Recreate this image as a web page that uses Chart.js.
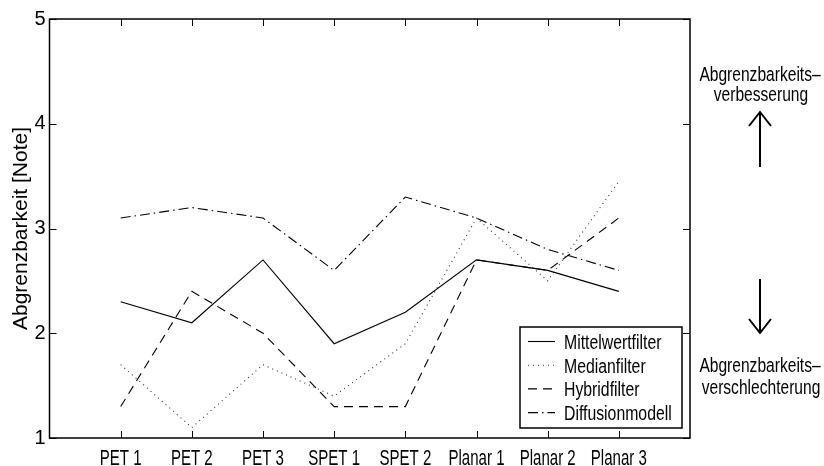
<!DOCTYPE html>
<html>
<head>
<meta charset="utf-8">
<script src="https://cdn.jsdelivr.net/npm/chart.js@4.4.1/dist/chart.umd.min.js"></script>
<style>
  body { margin: 0; background: #fff; }
  #wrap { position: relative; width: 824px; height: 466px; }
</style>
</head>
<body>
<div id="wrap"><canvas id="myChart"></canvas></div>
<script>
const categories = ['PET 1', 'PET 2', 'PET 3', 'SPET 1', 'SPET 2', 'Planar 1', 'Planar 2', 'Planar 3']
const seriesNames = ['Mittelwertfilter', 'Medianfilter', 'Hybridfilter', 'Diffusionmodell']
const mittelwert = [2.3, 2.1, 2.7, 1.9, 2.2, 2.7, 2.6, 2.4]
const median = [1.7, 1.1, 1.7, 1.4, 1.9, 3.1, 2.5, 3.45]
const hybrid = [1.3, 2.4, 2.0, 1.3, 1.3, 2.7, 2.6, 3.1]
const diffusion = [3.1, 3.2, 3.1, 2.6, 3.3, 3.1, 2.8, 2.6]
const yTicks = [1, 2, 3, 4, 5]

const FONT = "'Liberation Sans', Arial, sans-serif"

// x positions 1..8 on a 0..9 linear axis
const toPoints = (vals) => vals.map((v, i) => ({ x: i + 1, y: v }))

// the reference uses a condensed face, so squeeze the text horizontally
const squeezed = (ctx, text, x, y, align, sx) => {
  ctx.save()
  ctx.translate(x, y)
  ctx.scale(sx, 1)
  ctx.textAlign = align
  ctx.fillText(text, 0, 0)
  ctx.restore()
}

const boxPlugin = {
  id: 'boxPlugin',
  afterDatasetsDraw(chart) {
    const { ctx, chartArea: a, scales: { x, y } } = chart
    ctx.save()
    // frame
    ctx.strokeStyle = '#000'
    ctx.lineWidth = 1.5
    ctx.strokeRect(a.left, a.top, a.right - a.left, a.bottom - a.top)
    // inward ticks on all four sides
    ctx.lineWidth = 1
    ctx.beginPath()
    categories.forEach((c, i) => {
      const px = Math.round(x.getPixelForValue(i + 1)) + 0.5
      ctx.moveTo(px, a.bottom); ctx.lineTo(px, a.bottom - 7)
      ctx.moveTo(px, a.top); ctx.lineTo(px, a.top + 7)
    })
    yTicks.forEach(v => {
      const py = Math.round(y.getPixelForValue(v)) + 0.5
      ctx.moveTo(a.left, py); ctx.lineTo(a.left + 7, py)
      ctx.moveTo(a.right, py); ctx.lineTo(a.right - 7, py)
    })
    ctx.stroke()

    // category labels under the x axis
    ctx.fillStyle = '#000'
    ctx.font = '21.5px ' + FONT
    ctx.textBaseline = 'alphabetic'
    categories.forEach((c, i) => {
      squeezed(ctx, c, x.getPixelForValue(i + 1), a.bottom + 26.5, 'center', 0.7)
    })

    // legend box
    const lx = 520, ly = 327, lw = 162, lh = 101
    ctx.fillStyle = '#fff'
    ctx.fillRect(lx, ly, lw, lh)
    ctx.lineWidth = 1.5
    ctx.strokeRect(lx, ly, lw, lh)
    ctx.font = '20px ' + FONT
    chart.data.datasets.forEach((ds, i) => {
      const cy = 341.5 + i * 23.7
      ctx.save()
      ctx.strokeStyle = ds.borderColor
      ctx.lineWidth = ds.borderWidth
      ctx.setLineDash(ds.borderDash || [])
      ctx.beginPath()
      ctx.moveTo(528, cy); ctx.lineTo(555, cy)
      ctx.stroke()
      ctx.restore()
      ctx.fillStyle = '#000'
      squeezed(ctx, ds.label, 564, cy + 7.5, 'left', 0.79)
    })

    // annotations on the right
    ctx.fillStyle = '#000'
    ctx.font = '20.5px ' + FONT
    squeezed(ctx, 'Abgrenzbarkeits\u2013', 760, 80.5, 'center', 0.76)
    squeezed(ctx, 'verbesserung', 761, 101, 'center', 0.76)
    squeezed(ctx, 'Abgrenzbarkeits\u2013', 760, 372, 'center', 0.76)
    squeezed(ctx, 'verschlechterung', 761, 393.5, 'center', 0.76)

    ctx.strokeStyle = '#000'
    ctx.lineWidth = 2
    ctx.beginPath()
    // up arrow
    ctx.moveTo(760, 167); ctx.lineTo(760, 112)
    ctx.moveTo(749, 126); ctx.lineTo(760, 112); ctx.lineTo(771, 126)
    // down arrow
    ctx.moveTo(760, 279); ctx.lineTo(760, 333)
    ctx.moveTo(749, 319); ctx.lineTo(760, 333); ctx.lineTo(771, 319)
    ctx.stroke()
    ctx.restore()
  }
}

const ctx = document.getElementById('myChart')
new Chart(ctx, {
  type: 'line',
  data: {
    datasets: [
      { label: seriesNames[0], data: toPoints(mittelwert), borderColor: '#000', borderWidth: 1.1, borderDash: [] },
      { label: seriesNames[1], data: toPoints(median), borderColor: '#333', borderWidth: 1.1, borderDash: [1, 4] },
      { label: seriesNames[2], data: toPoints(hybrid), borderColor: '#000', borderWidth: 1.1, borderDash: [9, 6] },
      { label: seriesNames[3], data: toPoints(diffusion), borderColor: '#000', borderWidth: 1.1, borderDash: [10, 4, 1.5, 4] }
    ]
  },
  options: {
    responsive: true,
    maintainAspectRatio: false,
    animation: false,
    layout: { padding: { top: 19, right: 134, left: 0, bottom: 0 } },
    elements: { point: { radius: 0 }, line: { tension: 0, fill: false } },
    plugins: { legend: { display: false }, tooltip: { enabled: false } },
    scales: {
      x: {
        type: 'linear',
        min: 0,
        max: 9,
        grid: { display: false, drawTicks: false },
        border: { display: false },
        afterFit: (scale) => { scale.height = 28 },
        ticks: {
          stepSize: 1,
          autoSkip: false,
          maxRotation: 0,
          callback: () => ''
        }
      },
      y: {
        min: 1,
        max: 5,
        grid: { display: false, drawTicks: false },
        border: { display: false },
        afterFit: (scale) => { scale.width = 49.5 },
        title: {
          display: true,
          text: 'Abgrenzbarkeit [Note]',
          color: '#000',
          padding: { top: 9, bottom: 0 },
          font: { family: FONT, size: 21 }
        },
        ticks: {
          stepSize: 1,
          padding: 4,
          color: '#000',
          font: { family: FONT, size: 20 }
        }
      }
    }
  },
  plugins: [boxPlugin]
})
</script>
</body>
</html>
